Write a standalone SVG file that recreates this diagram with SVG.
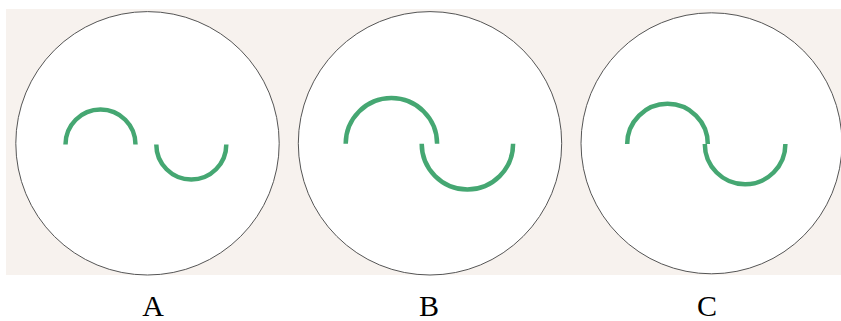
<svg xmlns="http://www.w3.org/2000/svg" width="841" height="321" viewBox="0 0 841 321">
<style>
.disc{fill:#ffffff;stroke:#555555;stroke-width:1}
.wave{fill:none;stroke:#45a772;stroke-width:4.5}
.lbl{font-family:"Liberation Serif","Times New Roman",serif;font-size:30px;fill:#000;text-anchor:middle}
</style>
<rect x="6" y="9" width="835" height="266" fill="#f7f2ee"/>
<g id="nodeA">
<circle class="disc" cx="147.5" cy="143.3" r="131.7"/>
<path class="wave" d="M65.5 144.5 A35 35 0 0 1 135.5 144.5"/>
<path class="wave" d="M156.3 144.5 A35 35 0 0 0 226.3 144.5"/>
</g>
<g id="nodeB">
<circle class="disc" cx="430" cy="143.3" r="131.7"/>
<path class="wave" d="M345.7 143.8 A45.7 45.7 0 0 1 437.1 143.8"/>
<path class="wave" d="M421.7 143.8 A45.7 45.7 0 0 0 513.1 143.8"/>
</g>
<g id="nodeC">
<circle class="disc" cx="711.5" cy="143.3" r="130.5"/>
<path class="wave" d="M627.2 144 A40.3 40.3 0 0 1 707.8 144"/>
<path class="wave" d="M704.8 144 A40.3 40.3 0 0 0 785.4 144"/>
</g>
<g id="connectors"></g>
<text class="lbl" x="153" y="316">A</text>
<text class="lbl" x="429" y="316">B</text>
<text class="lbl" x="707" y="316">C</text>
</svg>
